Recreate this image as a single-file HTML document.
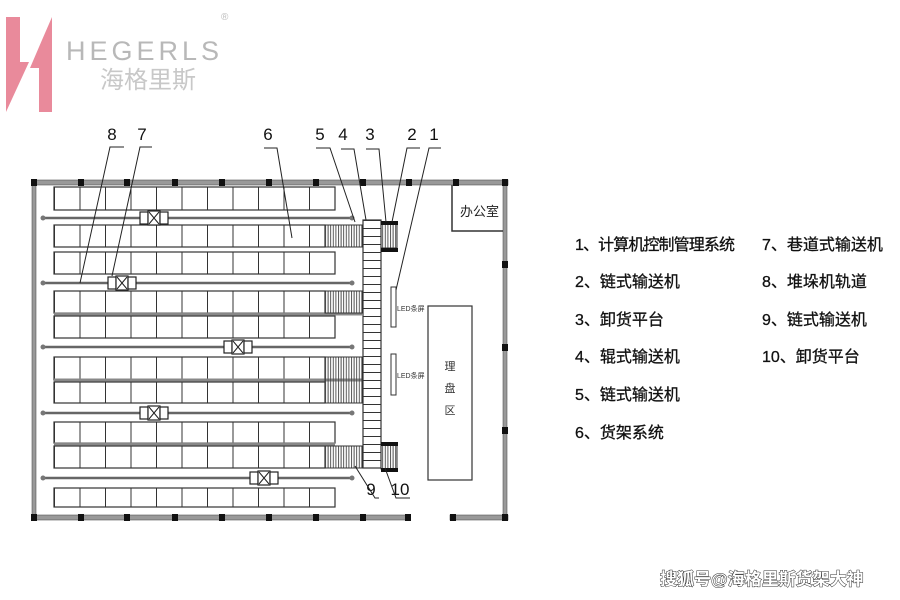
<!DOCTYPE html>
<html><head><meta charset="utf-8"><style>
body{margin:0;background:#fff;}
svg{display:block;}
text{font-family:"Liberation Sans","Noto Sans CJK SC",sans-serif;}
</style></head><body>
<svg width="900" height="600" viewBox="0 0 900 600" xmlns="http://www.w3.org/2000/svg">
<defs>
<pattern id="cell" patternUnits="userSpaceOnUse" x="54" y="0" width="25.5" height="10"><line x1="0.5" y1="0" x2="0.5" y2="10" stroke="#333" stroke-width="1"/></pattern>
<pattern id="hatch" patternUnits="userSpaceOnUse" x="0" y="0" width="2.6" height="10"><line x1="0.5" y1="0" x2="0.5" y2="10" stroke="#444" stroke-width="0.9"/></pattern>
<pattern id="roll" patternUnits="userSpaceOnUse" x="0" y="220" width="10" height="8"><line x1="0" y1="0.5" x2="10" y2="0.5" stroke="#333" stroke-width="1"/></pattern>
</defs>
<!-- logo -->
<polygon points="6,17 20,17 20,62 29,62 6,112" fill="#e98a9b"/>
<polygon points="52,17 52,112 39,112 39,68 30,68 42,40" fill="#e98a9b"/>
<text x="66" y="60" font-size="27" fill="#b8b8b8" letter-spacing="4">HEGERLS</text>
<text x="100" y="88" font-size="24" fill="#c8c8c8" font-family="Noto Serif CJK SC, serif">海格里斯</text>
<text x="221" y="20" font-size="10" fill="#bbb">®</text>

<!-- walls -->
<g fill="#999" stroke="#555" stroke-width="0.6">
<rect x="32" y="180" width="476" height="5"/>
<rect x="32" y="515" width="376" height="5"/>
<rect x="450" y="515" width="58" height="5"/>
<rect x="32" y="180" width="4" height="340"/>
<rect x="503" y="180" width="4" height="340"/>
</g>
<g fill="#111">
<rect x="31" y="179" width="6" height="7"/><rect x="78" y="179" width="6" height="7"/><rect x="124" y="179" width="6" height="7"/><rect x="172" y="179" width="6" height="7"/><rect x="219" y="179" width="6" height="7"/><rect x="266" y="179" width="6" height="7"/><rect x="313" y="179" width="6" height="7"/><rect x="360" y="179" width="6" height="7"/><rect x="406" y="179" width="6" height="7"/><rect x="453" y="179" width="6" height="7"/><rect x="502" y="179" width="6" height="7"/>
<rect x="31" y="514" width="6" height="7"/><rect x="78" y="514" width="6" height="7"/><rect x="124" y="514" width="6" height="7"/><rect x="172" y="514" width="6" height="7"/><rect x="219" y="514" width="6" height="7"/><rect x="266" y="514" width="6" height="7"/><rect x="313" y="514" width="6" height="7"/><rect x="360" y="514" width="6" height="7"/><rect x="405" y="514" width="6" height="7"/><rect x="450" y="514" width="6" height="7"/><rect x="502" y="514" width="6" height="7"/>
<rect x="502" y="261" width="6" height="7"/><rect x="502" y="344" width="6" height="7"/><rect x="502" y="427" width="6" height="7"/>
</g>

<!-- racks -->
<g stroke="#333" stroke-width="1.2">
<rect x="54" y="187" width="281" height="23" fill="url(#cell)"/>
<rect x="54" y="225" width="271" height="22" fill="url(#cell)"/>
<rect x="54" y="252" width="281" height="22" fill="url(#cell)"/>
<rect x="54" y="291" width="271" height="22" fill="url(#cell)"/>
<rect x="54" y="316" width="281" height="22" fill="url(#cell)"/>
<rect x="54" y="357" width="271" height="23" fill="url(#cell)"/>
<rect x="54" y="382" width="271" height="21" fill="url(#cell)"/>
<rect x="54" y="422" width="281" height="21" fill="url(#cell)"/>
<rect x="54" y="446" width="271" height="22" fill="url(#cell)"/>
<rect x="54" y="488" width="281" height="19" fill="url(#cell)"/>
</g>
<g stroke="#888" stroke-width="3">
<line x1="54" y1="314" x2="362" y2="314"/><line x1="54" y1="380" x2="362" y2="380"/><line x1="54" y1="444" x2="335" y2="444"/>
</g>
<g stroke="#333" stroke-width="1">
<rect x="325" y="225" width="37" height="22" fill="url(#hatch)"/>
<rect x="325" y="291" width="37" height="22" fill="url(#hatch)"/>
<rect x="325" y="357" width="37" height="46" fill="url(#hatch)"/>
<rect x="325" y="446" width="37" height="22" fill="url(#hatch)"/>
</g>

<!-- aisles -->
<g stroke="#666" stroke-width="2.5">
<line x1="43" y1="218" x2="352" y2="218"/><line x1="43" y1="283" x2="352" y2="283"/><line x1="43" y1="347" x2="352" y2="347"/><line x1="43" y1="413" x2="352" y2="413"/><line x1="43" y1="478" x2="352" y2="478"/>
</g>
<g fill="#777"><circle cx="43" cy="218" r="2.5"/><circle cx="352" cy="218" r="2.5"/><circle cx="43" cy="283" r="2.5"/><circle cx="352" cy="283" r="2.5"/><circle cx="43" cy="347" r="2.5"/><circle cx="352" cy="347" r="2.5"/><circle cx="43" cy="413" r="2.5"/><circle cx="352" cy="413" r="2.5"/><circle cx="43" cy="478" r="2.5"/><circle cx="352" cy="478" r="2.5"/></g>
<!-- carts -->
<g fill="#fff" stroke="#222" stroke-width="1.2">
<rect x="140" y="212" width="8" height="12"/><rect x="148" y="211" width="12" height="14"/><rect x="160" y="212" width="8" height="12"/>
<rect x="108" y="277" width="8" height="12"/><rect x="116" y="276" width="12" height="14"/><rect x="128" y="277" width="8" height="12"/>
<rect x="224" y="341" width="8" height="12"/><rect x="232" y="340" width="12" height="14"/><rect x="244" y="341" width="8" height="12"/>
<rect x="140" y="407" width="8" height="12"/><rect x="148" y="406" width="12" height="14"/><rect x="160" y="407" width="8" height="12"/>
<rect x="250" y="472" width="8" height="12"/><rect x="258" y="471" width="12" height="14"/><rect x="270" y="472" width="8" height="12"/>
</g>
<g stroke="#222" stroke-width="1"><path d="M149,212 L159,224 M159,212 L149,224 M117,277 L127,289 M127,277 L117,289 M233,341 L243,353 M243,341 L233,353 M149,407 L159,419 M159,407 L149,419 M259,472 L269,484 M269,472 L259,484"/></g>

<!-- roller conveyor 4 -->
<rect x="363" y="220" width="18" height="248" fill="url(#roll)" stroke="#333" stroke-width="1.2"/>
<!-- chain conveyors 2/10 -->
<rect x="381" y="224" width="16" height="24" fill="url(#hatch)" stroke="#333"/>
<rect x="381" y="221" width="17" height="4" fill="#111"/><rect x="381" y="248" width="17" height="4" fill="#111"/>
<rect x="381" y="445" width="16" height="24" fill="url(#hatch)" stroke="#333"/>
<rect x="381" y="442" width="17" height="4" fill="#111"/><rect x="381" y="468" width="17" height="4" fill="#111"/>
<!-- LED -->
<rect x="391" y="287" width="5" height="40" fill="#fff" stroke="#333"/>
<rect x="391" y="354" width="5" height="41" fill="#fff" stroke="#333"/>
<text x="397" y="311" font-size="7" fill="#333">LED条屏</text>
<text x="397" y="378" font-size="7" fill="#333">LED条屏</text>
<!-- area -->
<rect x="428" y="306" width="44" height="174" fill="#fff" stroke="#333" stroke-width="1.2"/>
<text x="450" y="370" font-size="11" fill="#333" text-anchor="middle">理</text>
<text x="450" y="392" font-size="11" fill="#333" text-anchor="middle">盘</text>
<text x="450" y="414" font-size="11" fill="#333" text-anchor="middle">区</text>
<!-- office -->
<path d="M452,185 L452,231 L503,231" fill="none" stroke="#333" stroke-width="1.5"/>
<text x="460" y="216" font-size="13" fill="#222">办公室</text>

<!-- labels -->
<g font-size="17" fill="#111" text-anchor="middle">
<text x="112" y="140">8</text><text x="142" y="140">7</text><text x="268" y="140">6</text><text x="320" y="140">5</text><text x="343" y="140">4</text><text x="370" y="140">3</text><text x="412" y="140">2</text><text x="434" y="140">1</text>
<text x="371" y="495">9</text><text x="400" y="495">10</text>
</g>
<g stroke="#222" stroke-width="1" fill="none">
<path d="M124,147 L110,147 L80,283"/>
<path d="M152,147 L140,147 L112,276"/>
<path d="M264,148 L277,148 L292,238"/>
<path d="M316,148 L330,148 L355,222"/>
<path d="M341,149 L354,149 L366,220"/>
<path d="M366,149 L379,149 L386,222"/>
<path d="M420,148 L407,148 L392,222"/>
<path d="M441,148 L429,148 L396,290"/>
<path d="M355,466 L375,498 L379,498"/>
<path d="M385,468 L396,498 L410,498"/>
</g>

<!-- legend -->
<g font-size="16" fill="#111" stroke="#111" stroke-width="0.3">
<text x="575" y="250" textLength="160">1、计算机控制管理系统</text>
<text x="575" y="287">2、链式输送机</text>
<text x="575" y="325">3、卸货平台</text>
<text x="575" y="362">4、辊式输送机</text>
<text x="575" y="400">5、链式输送机</text>
<text x="575" y="438">6、货架系统</text>
<text x="762" y="250">7、巷道式输送机</text>
<text x="762" y="287">8、堆垛机轨道</text>
<text x="762" y="325">9、链式输送机</text>
<text x="762" y="362">10、卸货平台</text>
</g>
<text x="660" y="585" font-size="17" fill="#fff" stroke="#333" stroke-width="1" paint-order="stroke" font-weight="bold">搜狐号@海格里斯货架大神</text>
</svg>
</body></html>
